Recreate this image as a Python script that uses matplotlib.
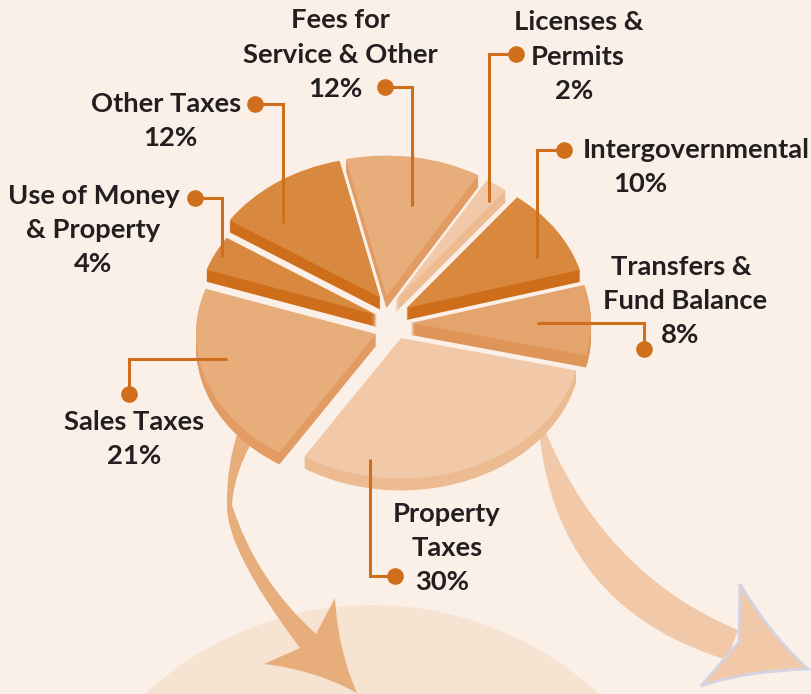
import matplotlib
matplotlib.use('Agg')
import matplotlib.pyplot as plt
from matplotlib.patches import Circle, PathPatch
from matplotlib.path import Path

# Data
categories = ['Fees for\nService & Other', 'Licenses &\nPermits', 'Intergovernmental',
              'Transfers &\nFund Balance', 'Property\nTaxes', 'Sales Taxes',
              'Use of Money\n& Property', 'Other Taxes']
values = [12, 2, 10, 8, 30, 21, 4, 12]

# Styles
# how far each slice is pulled out of the pie, in pixels (right, down)
pull = [(-5.5, -22), (3, -17), (14.5, -10), (19, 5), (9, 20), (-16, 16), (-15, -3), (-12, -20.5)]
top_colors = ['#E7AD7B', '#F1C9A8', '#D98840', '#E4A46D', '#F1C9A8', '#E7AD7B', '#D98840', '#D98840']
wall_colors = ['#E29C63', '#ECBB92', '#CE6D1A', '#DE9557', '#ECBB92', '#E29C63', '#CE6D1A', '#CE6D1A']
bg = '#FAF0E8'
accent = '#CF6F1B'
ink = '#231F20'
squash = 0.78
radius = 180
center_x, center_y = 392, 318
depth = 12
font = dict(fontsize=19.7, fontweight='bold', family='Lato', color=ink, va='center', ha='center')

# where each line of label text goes, in pixels
label_pos = [[(340, 20), (340, 55), (335, 89)], [(579, 22), (578, 57), (574, 91)], [(696, 150), (640, 184)],
             [(681, 267), (685, 301), (680, 335)], [(447, 514), (447, 548), (442, 582)],
             [(134, 422), (134, 456)], [(94, 196), (93, 230), (93, 264)], [(166, 104), (170, 138)]]
# leader lines, dot first
leaders = [[(385, 87), (412, 87), (412, 206)],
           [(516, 54), (489, 54), (489, 202)],
           [(564, 150), (537, 150), (537, 258)],
           [(644, 349), (644, 323), (537, 323)],
           [(395, 576), (370, 576), (370, 459)],
           [(129, 394), (129, 359), (227, 359)],
           [(195, 198), (222, 198), (222, 257)],
           [(255, 104), (283, 104), (283, 223)]]

fig = plt.figure(figsize=(8.11, 6.94), dpi=100, facecolor=bg)


def pixel_axes(z):
    ax = fig.add_axes([0, 0, 1, 1], zorder=z)
    ax.set_xlim(0, 811)
    ax.set_ylim(694, 0)
    ax.axis('off')
    return ax


# Background circle and arrows
back = pixel_axes(0)
back.add_patch(Circle((372, 939), 334, facecolor='#F7E3D1', edgecolor='none'))

M, L, C, C4 = Path.MOVETO, Path.LINETO, Path.CURVE3, Path.CURVE4
arrow1 = [(240, 425), (226, 465), (227, 505), (226, 550), (300, 648), (264, 664), (315, 670), (357, 693),
          (338, 650), (335, 598), (316, 634), (256, 580), (232, 505), (234, 470), (258, 432), (240, 425)]
arrow1_codes = [M, C, C, C, C, L, C, C, C, C, L, C, C, C, C, L]
back.add_patch(PathPatch(Path(arrow1, arrow1_codes), facecolor='#E7AD7B', edgecolor='none'))

shaft2 = [(539, 430), (552, 565), (630, 630), (727, 660), (738, 630), (665, 600), (590, 540), (545, 430)]
shaft2_codes = [M, C4, C4, C4, L, C4, C4, C4]
back.add_patch(PathPatch(Path(shaft2, shaft2_codes), facecolor='#F1C9A8', edgecolor='none'))
head2 = [(740, 584), (739, 642), (701, 686), (745, 671), (808, 669), (770, 635), (740, 584)]
head2_codes = [M, L, L, C, C, C, C]
back.add_patch(PathPatch(Path(head2, head2_codes), facecolor='#F1C9A8', edgecolor='#D5D3E3', linewidth=2))

# Pie, walls stacked under the tops
ax = fig.add_axes([0, 0, 1, 1], zorder=1)
ax.patch.set_alpha(0)
for dz in list(range(depth, 0, -1)) + [0]:
    colors = top_colors if dz == 0 else wall_colors
    wedges, _ = ax.pie(values, colors=colors, startangle=103, counterclock=False, radius=radius,
                       center=(center_x, 0), wedgeprops={'linewidth': 0}, frame=True)
    for w, (dx, dy) in zip(wedges, pull):
        w.set_center((center_x + dx, (694 - center_y - dy - dz) / squash))
ax.set_aspect('auto')
ax.set_xlim(0, 811)
ax.set_ylim(0, 694 / squash)
ax.axis('off')

# Leaders and labels
front = pixel_axes(2)
for pts in leaders:
    xs = [p[0] for p in pts]
    ys = [p[1] for p in pts]
    front.plot(xs, ys, color=accent, lw=2.2, solid_joinstyle='miter', solid_capstyle='butt')
    front.plot(xs[0], ys[0], 'o', color=accent, ms=12, mew=0)

for name, val, pos in zip(categories, values, label_pos):
    lines = name.split('\n') + [f'{val}%']
    for line, (x, y) in zip(lines, pos):
        front.text(x, y, line, **font)

fig.savefig('out.png', dpi=100, facecolor=bg)
